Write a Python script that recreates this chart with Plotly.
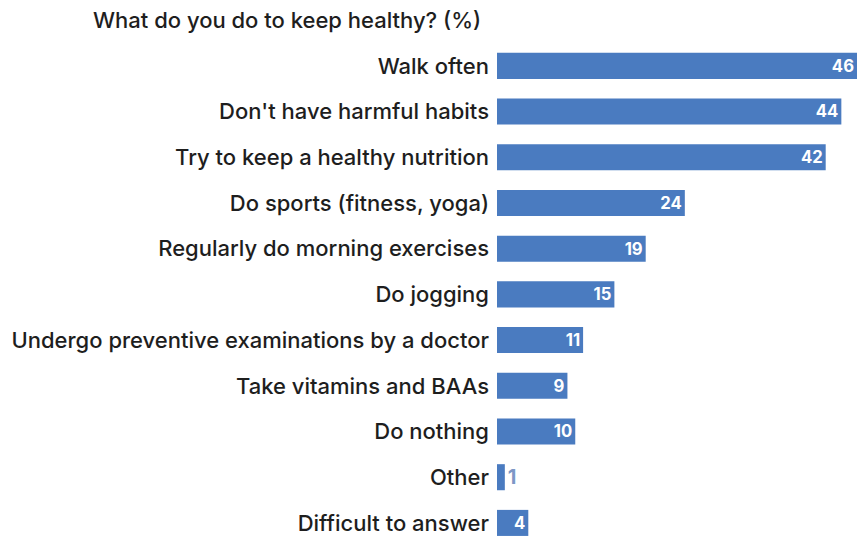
import plotly.graph_objects as go

categories = [
    "Walk often",
    "Don't have harmful habits",
    "Try to keep a healthy nutrition",
    "Do sports (fitness, yoga)",
    "Regularly do morning exercises",
    "Do jogging",
    "Undergo preventive examinations by a doctor",
    "Take vitamins and BAAs",
    "Do nothing",
    "Other",
    "Difficult to answer",
]
values = [46, 44, 42, 24, 19, 15, 11, 9, 10, 1, 4]
title_text = "What do you do to keep healthy? (%)"

bar_color = "#4a7bc0"
positions = ["inside" if v >= 3 else "outside" for v in values]
FONT = "Inter, Roboto, sans-serif"

fig = go.Figure(go.Bar(
    x=values,
    y=categories,
    orientation="h",
    marker=dict(color=bar_color, line=dict(width=0)),
    text=[str(v) for v in values],
    textposition=positions,
    insidetextanchor="end",
    textangle=0,
    insidetextfont=dict(family=FONT, size=20, color="white", weight="bold"),
    outsidetextfont=dict(family=FONT, size=20, color="#7d97c6", weight="bold"),
    cliponaxis=False,
))

fig.update_layout(
    width=860, height=538,
    margin=dict(l=497, r=3, t=43, b=0),
    paper_bgcolor="white", plot_bgcolor="white",
    bargap=0.43,
    showlegend=False,
    font=dict(family=FONT, size=22, color="#1e1e1e"),
    xaxis=dict(range=[0, 46], visible=False, fixedrange=True),
    yaxis=dict(
        range=[10.33, -0.5],
        showgrid=False, zeroline=False, showline=False,
        ticks="", ticklabelstandoff=7, fixedrange=True,
        tickfont=dict(family=FONT, size=22, color="#1e1e1e", weight=500),
    ),
    annotations=[dict(
        text=title_text, xref="paper", yref="paper",
        x=0, y=1, xanchor="right", yanchor="middle",
        xshift=-14, yshift=23, showarrow=False,
        font=dict(family=FONT, size=22, color="#1e1e1e", weight=500),
    )],
)

fig.write_html(
    "out.html",
    config={"displayModeBar": False},
    post_script="document.body.style.margin='0';",
)
